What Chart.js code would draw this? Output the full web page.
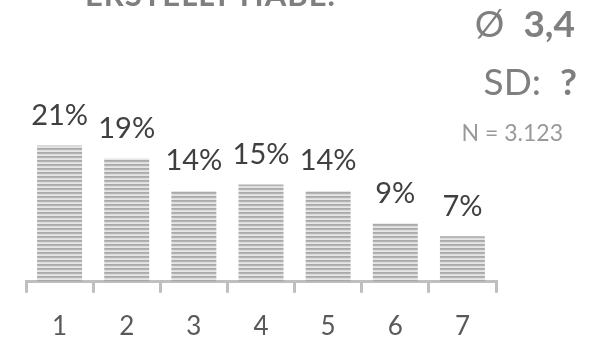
<!DOCTYPE html>
<html>
<head>
<meta charset="utf-8">
<script src="https://cdn.jsdelivr.net/npm/chart.js@4/dist/chart.umd.min.js"></script>
<style>
  html,body{margin:0;padding:0;background:#fff;}
  #wrap{position:relative;width:596px;height:340px;overflow:hidden;font-family:Lato,"Open Sans",sans-serif;}
  #chart{position:absolute;left:0;top:0;}
  .note{position:absolute;color:#7f7f7f;white-space:nowrap;line-height:1;}
  #title{left:85px;top:-21px;font-size:31px;font-weight:bold;letter-spacing:1px;}
  #mean{right:21px;top:4px;font-size:37px;}
  #sd{right:19px;top:62px;font-size:37px;}
  #count{right:33px;top:121px;font-size:23px;color:#999;}
  b{font-weight:bold;}
</style>
</head>
<body>
<div id="wrap">
  <canvas id="chart" width="596" height="360"></canvas>
  <div class="note" id="title">ERSTELLT HABE.</div>
  <div class="note" id="mean">Ø&nbsp; <b>3,4</b></div>
  <div class="note" id="sd">SD:&nbsp; <b>?</b></div>
  <div class="note" id="count">N = 3.123</div>
</div>
<script>
const categories = ['1','2','3','4','5','6','7'];
const shares = [21, 19, 14, 15, 14, 9, 7];

// striped fill for the bars
function stripes(){
  const c = document.createElement('canvas');
  c.width = 4; c.height = 4;
  const g = c.getContext('2d');
  const rows = ['#a9a9a9','#b4b4b4','#dcdcdc','#e6e6e6'];
  rows.forEach((col,i)=>{ g.fillStyle = col; g.fillRect(0,i,4,1); });
  return g.createPattern(c,'repeat');
}

// percent labels above each bar
const valueLabels = {
  id:'valueLabels',
  afterDatasetsDraw(chart){
    const ctx = chart.ctx;
    const meta = chart.getDatasetMeta(0);
    ctx.save();
    ctx.font = '29px Lato, "Open Sans", sans-serif';
    ctx.fillStyle = '#404040';
    ctx.textAlign = 'center';
    ctx.textBaseline = 'middle';
    meta.data.forEach((bar,i)=>{
      ctx.fillText(shares[i] + '%', bar.x, bar.y - 30);
    });
    ctx.restore();
  }
};

new Chart(document.getElementById('chart'), {
  type:'bar',
  data:{
    labels:categories,
    datasets:[{
      data:shares,
      backgroundColor:stripes(),
      borderWidth:0,
      categoryPercentage:1,
      barPercentage:0.67
    }]
  },
  options:{
    responsive:false,
    animation:false,
    events:[],
    layout:{padding:{left:26,right:100,top:87,bottom:0}},
    plugins:{legend:{display:false},tooltip:{enabled:false}},
    scales:{
      x:{
        grid:{display:true,drawOnChartArea:false,drawTicks:true,tickLength:11,color:'#bfbfbf',lineWidth:3,offset:true},
        border:{display:true,color:'#bfbfbf',width:3},
        ticks:{color:'#595959',font:{family:'Lato, "Open Sans", sans-serif',size:26},padding:18}
      },
      y:{display:false,min:0,max:30}
    }
  },
  plugins:[valueLabels]
});
</script>
</body>
</html>
